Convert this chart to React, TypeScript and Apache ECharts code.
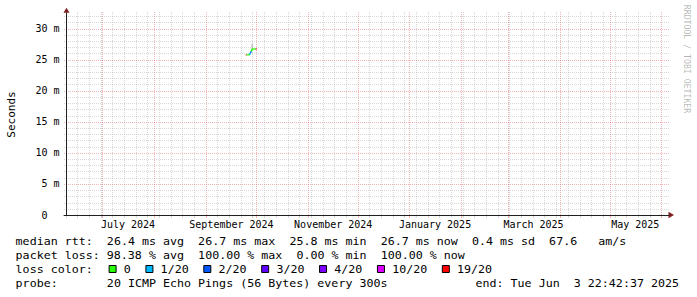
import React, { useEffect, useRef } from "react";
import * as echarts from "echarts";

const FONT = '"DejaVu Sans Mono", monospace';
const DAY = 86400000;
const STEP = DAY / 2;

// ---- axis / grid data ----
const monthStarts = ["2024-07-01", "2024-08-01", "2024-09-01", "2024-10-01", "2024-11-01", "2024-12-01", "2025-01-01", "2025-02-01", "2025-03-01", "2025-04-01", "2025-05-01", "2025-06-01"];
const firstSunday = "2024-06-09";
const lastSunday = "2025-06-01";
const monthLabelDates = ["2024-07-01", "2024-09-01", "2024-11-01", "2025-01-01", "2025-03-01", "2025-05-01"];
const monthLabels = ["July 2024", "September 2024", "November 2024", "January 2025", "March 2025", "May 2025"];
const yLabelValues = [0, 5, 10, 15, 20, 25, 30];
const yMajorLines = [5, 10, 15, 20, 25, 30];
const yMinorLines = [1, 2, 3, 4, 6, 7, 8, 9, 11, 12, 13, 14, 16, 17, 18, 19, 21, 22, 23, 24, 26, 27, 28, 29, 31, 32];
const yMax = 32.5;

// ---- series data (12h consolidated rows) ----
const sampleTimes = ["2024-09-25T00:00:00Z", "2024-09-25T12:00:00Z", "2024-09-26T00:00:00Z", "2024-09-26T12:00:00Z", "2024-09-27T00:00:00Z", "2024-09-27T12:00:00Z", "2024-09-28T00:00:00Z", "2024-09-28T12:00:00Z", "2024-09-29T00:00:00Z", "2024-09-29T12:00:00Z", "2024-09-30T00:00:00Z", "2024-09-30T12:00:00Z", "2024-10-01T00:00:00Z"];
const medianRtt = [25.8, 25.8, 25.8, 25.8, 25.8, 26.1, 26.3, 26.7, 26.7, 26.7, 26.7, 26.7, 26.7];
const lossCount = [19, 0, 0, 0, 0, 1, 2, 0, 0, 0, 0, 0, 19];
const smokeLow = [null, null, null, null, null, null, null, 26.7, null, null, null, null, null];
const smokeHigh = [null, null, null, null, null, null, null, 27.6, null, null, null, null, null];

// ---- legend data ----
const lossLevels = [0, 1, 2, 3, 4, 10, 19];
const lossLabels = ["0", "1/20", "2/20", "3/20", "4/20", "10/20", "19/20"];
const lossColors = ["#26ff00", "#00b8ff", "#0059ff", "#5e00ff", "#7e00ff", "#dd00ff", "#ff0000"];
const medianStats = ["26.4 ms avg", "26.7 ms max", "25.8 ms min", "26.7 ms now", "0.4 ms sd", "67.6   am/s"];
const lossStats = ["98.38 % avg", "100.00 % max", "0.00 % min", "100.00 % now"];
const probeText = "20 ICMP Echo Pings (56 Bytes) every 300s";
const endText = "end: Tue Jun  3 22:42:37 2025";

const d = (s: string) => Date.parse(s.length === 10 ? s + "T00:00:00Z" : s);

const X_MIN = d("2024-07-01") - 22.95 * DAY;
const X_MAX = d("2025-06-01") + 4.61 * DAY;

const CHAR = 7.02;
const LEG_FS = 11;
const LEG_SCALE = CHAR / (LEG_FS * 0.602);

function lossColor(loss: number) {
  let c = lossColors[0];
  for (let i = 0; i < lossLevels.length; i++) if (loss >= lossLevels[i]) c = lossColors[i];
  return c;
}

function textEl(text: string, x: number, y: number, extra: any = {}) {
  return {
    type: "text",
    x,
    y,
    scaleX: LEG_SCALE,
    silent: true,
    style: {
      text,
      font: `${LEG_FS}px ${FONT}`,
      fill: "#000",
      verticalAlign: "middle",
      textVerticalAlign: "middle",
      ...extra,
    },
  };
}

function lineRuns(line: string, x0: number, y: number) {
  const out: any[] = [];
  const re = /\S+(?: \S+)*/g;
  let m: RegExpExecArray | null;
  while ((m = re.exec(line))) out.push(textEl(m[0], x0 + m.index * CHAR, y));
  return out;
}

export default function App() {
  const ref = useRef<HTMLDivElement>(null);
  useEffect(() => {
    if (!ref.current) return;
    const chart = echarts.init(ref.current, undefined, { renderer: "svg" });

    const weekLines: number[] = [];
    for (let t = d(firstSunday); t <= d(lastSunday); t += 7 * DAY) weekLines.push(t);
    const monthLines = monthStarts.map(d);
    const monthSet = new Set(monthLines);

    // grid items: [kind, value] kind 0 minor-h, 1 major-h, 2 minor-v, 3 major-v
    const gridItems: number[][] = [];
    yMinorLines.forEach((v) => gridItems.push([0, v]));
    weekLines.filter((t) => !monthSet.has(t)).forEach((t) => gridItems.push([2, t]));
    yMajorLines.forEach((v) => gridItems.push([1, v]));
    monthLines.forEach((t) => gridItems.push([3, t]));

    const GRID_MINOR = "rgba(143,143,143,0.36)";
    const GRID_MAJOR = "rgba(222,79,79,0.42)";

    const medianItems = sampleTimes.map((s, i) => [d(s), medianRtt[i], lossCount[i], i > 0 ? medianRtt[i - 1] : medianRtt[i]]);
    const smokeItems = sampleTimes
      .map((s, i) => [d(s), smokeLow[i], smokeHigh[i]])
      .filter((it) => it[1] != null);

    // legend graphics
    const g: any[] = [];
    const X0 = 15.6;
    g.push(...lineRuns("median rtt:  " + medianStats.join("  "), X0, 241.3));
    g.push(...lineRuns("packet loss: " + lossStats.join("  "), X0, 255.3));
    g.push(...lineRuns("loss color:", X0, 269.5));
    let bx = 108.6;
    lossLabels.forEach((lab, i) => {
      g.push({
        type: "rect",
        silent: true,
        shape: { x: bx + 0.5, y: 265.5, width: 7, height: 7 },
        style: { fill: lossColors[i], stroke: "#000", lineWidth: 1 },
      });
      const lx = bx + 15.2;
      g.push(textEl(lab, lx, 269.5));
      bx = lx + lab.length * CHAR + 14.6;
    });
    g.push(...lineRuns("probe:", X0, 283));
    g.push(...lineRuns(probeText, X0 + 13 * CHAR, 283));
    g.push(...lineRuns(endText, 475.5, 283));
    // axis arrows
    g.push({ type: "polygon", silent: true, shape: { points: [[668.5, 211.8], [674, 215], [668.5, 218.2]] }, style: { fill: "#801f1f" } });
    g.push({ type: "polygon", silent: true, shape: { points: [[63.5, 12.8], [66.5, 7.8], [69.5, 12.8]] }, style: { fill: "#801f1f" } });
    // unit label
    g.push({
      type: "text",
      x: 11,
      y: 114.5,
      rotation: Math.PI / 2,
      silent: true,
      style: { text: "Seconds", font: `11px ${FONT}`, fill: "#000", align: "center", verticalAlign: "middle", textAlign: "center", textVerticalAlign: "middle" },
    });
    // watermark
    g.push({
      type: "text",
      x: 686.5,
      y: 59,
      rotation: -Math.PI / 2,
      silent: true,
      style: { text: "RRDTOOL / TOBI OETIKER", font: `8.2px ${FONT}`, fill: "rgba(0,0,0,0.3)", align: "center", verticalAlign: "middle", textAlign: "center", textVerticalAlign: "middle" },
    });

    const option: any = {
      animation: false,
      backgroundColor: "#ffffff",
      grid: { left: 64, right: 28, top: 13, bottom: 82, containLabel: false },
      xAxis: {
        type: "value",
        min: X_MIN,
        max: X_MAX,
        z: 5,
        axisLine: { show: true, lineStyle: { color: "#1f1f1f", width: 1 } },
        axisTick: { show: false },
        axisLabel: { show: false },
        splitLine: { show: false },
      },
      yAxis: {
        type: "value",
        min: 0,
        max: yMax,
        interval: 5,
        offset: -2.5,
        z: 5,
        axisLine: { show: true, lineStyle: { color: "#1f1f1f", width: 1 } },
        axisTick: { show: false },
        splitLine: { show: false },
        axisLabel: {
          margin: 7,
          color: "#000",
          fontFamily: FONT,
          fontSize: 10,
          formatter: (v: number) => {
            if (!yLabelValues.includes(v)) return "";
            return v === 0 ? "0\u00a0\u00a0" : `${v} m`;
          },
        },
      },
      series: [
        {
          type: "custom",
          name: "grid",
          silent: true,
          clip: false,
          z: 1,
          data: gridItems,
          renderItem: (params: any, api: any) => {
            const kind = api.value(0);
            const v = api.value(1);
            const cs = params.coordSys;
            const major = kind === 1 || kind === 3;
            const stroke = major ? GRID_MAJOR : GRID_MINOR;
            if (kind <= 1) {
              const y = Math.round(api.coord([X_MIN, v])[1]) + 0.5;
              return {
                type: "line",
                shape: { x1: cs.x, y1: y, x2: cs.x + cs.width, y2: y },
                style: { stroke, lineWidth: 1, lineDash: [1, 1] },
              };
            }
            const x = Math.round(api.coord([v, 0])[0]) + 0.5;
            return {
              type: "group",
              children: [
                {
                  type: "line",
                  shape: { x1: x, y1: cs.y + cs.height, x2: x, y2: cs.y - 1 },
                  style: { stroke, lineWidth: 1, lineDash: [1, 1] },
                },
                {
                  type: "line",
                  shape: { x1: x, y1: cs.y + cs.height, x2: x, y2: cs.y + cs.height + 3 },
                  style: { stroke, lineWidth: 1 },
                },
              ],
            };
          },
        },
        {
          type: "custom",
          name: "smoke",
          silent: true,
          z: 2,
          data: smokeItems,
          renderItem: (_p: any, api: any) => {
            const a = api.coord([api.value(0), api.value(1)]);
            const b = api.coord([api.value(0) + STEP, api.value(2)]);
            return {
              type: "rect",
              shape: { x: a[0], y: b[1], width: Math.max(1, b[0] - a[0]), height: a[1] - b[1] },
              style: { fill: "#a8a8a8" },
            };
          },
        },
        {
          type: "custom",
          name: "median rtt",
          silent: true,
          z: 3,
          data: medianItems,
          renderItem: (_p: any, api: any) => {
            const t = api.value(0);
            const v = api.value(1);
            const loss = api.value(2);
            const pv = api.value(3);
            const color = lossColor(loss);
            const p1 = api.coord([t, v]);
            const p2 = api.coord([t + STEP, v]);
            const p0 = api.coord([t, pv]);
            return {
              type: "group",
              children: [
                { type: "line", shape: { x1: p0[0], y1: p0[1], x2: p1[0], y2: p1[1] }, style: { stroke: color, lineWidth: 1.5 } },
                { type: "line", shape: { x1: p1[0], y1: p1[1], x2: p2[0], y2: p2[1] }, style: { stroke: color, lineWidth: 1.5 } },
              ],
            };
          },
        },
        {
          type: "custom",
          name: "month labels",
          silent: true,
          clip: false,
          z: 4,
          data: monthLabelDates.map((s) => [d(s) + 15.4 * DAY, 0]),
          renderItem: (params: any, api: any) => {
            const p = api.coord([api.value(0), 0]);
            return {
              type: "text",
              x: p[0],
              y: p[1] + 9.5,
              style: {
                text: monthLabels[params.dataIndex],
                font: `10px ${FONT}`,
                fill: "#000",
                align: "center",
                verticalAlign: "middle",
                textAlign: "center",
                textVerticalAlign: "middle",
              },
            };
          },
        },
      ],
      graphic: g,
    };
    chart.setOption(option);
    return () => chart.dispose();
  }, []);

  return (
    <div
      ref={ref}
      style={{ position: "fixed", left: 0, top: 0, width: 697, height: 297, background: "#fff" }}
    />
  );
}
